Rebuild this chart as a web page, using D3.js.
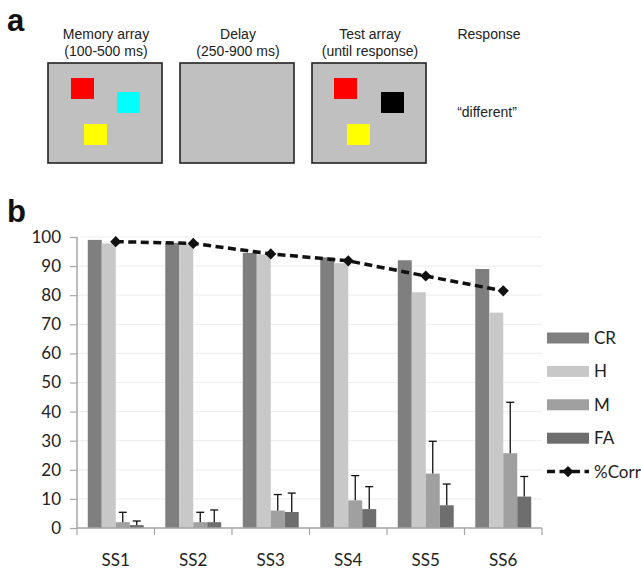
<!DOCTYPE html>
<html>
<head>
<meta charset="utf-8">
<script src="https://cdn.jsdelivr.net/npm/d3@7"></script>
<style>
  body { margin: 0; background: #fff; }
  svg { display: block; }
</style>
</head>
<body>
<script>
const setSizes = ['SS1', 'SS2', 'SS3', 'SS4', 'SS5', 'SS6'];
const seriesNames = ['CR', 'H', 'M', 'FA'];
const crValues = [99, 98, 94.5, 93, 92, 89];
const hValues = [97.8, 97.5, 94, 91, 81, 74];
const mValues = [2, 2, 6, 9.5, 18.7, 25.7];
const faValues = [1, 2, 5.5, 6.5, 7.8, 10.8];
const mErrTop = [5.4, 5.4, 11.5, 18, 29.8, 43.2];
const faErrTop = [2.4, 6.2, 12, 14.2, 15.1, 17.7];
const corrValues = [98.4, 97.8, 94.2, 91.8, 86.6, 81.5];
const yTicks = [0, 10, 20, 30, 40, 50, 60, 70, 80, 90, 100];

const seriesColor = { CR: '#7f7f7f', H: '#c7c8c7', M: '#a0a0a0', FA: '#6e6e6e' };

const svg = d3.select('body').append('svg')
  .attr('width', 641)
  .attr('height', 570);

// ***** PANEL A *****
const textFont = '"Liberation Sans", Arial, sans-serif';

svg.append('text')
  .attr('x', 7).attr('y', 31)
  .style('font-family', textFont).style('font-weight', 'bold').style('font-size', '31px')
  .attr('fill', '#111')
  .text('a');

const screens = [
  { x: 48, title: ['Memory array', '(100-500 ms)'], squares: [
    { x: 71, y: 78, c: '#ff0000' }, { x: 117, y: 92, c: '#00ffff' }, { x: 84, y: 124, c: '#ffff00' }] },
  { x: 180, title: ['Delay', '(250-900 ms)'], squares: [] },
  { x: 312, title: ['Test array', '(until response)'], squares: [
    { x: 334, y: 78, c: '#ff0000' }, { x: 381, y: 92, c: '#000000' }, { x: 347, y: 124, c: '#ffff00' }] },
];

screens.forEach((s) => {
  const g = svg.append('g');
  g.append('rect')
    .attr('x', s.x).attr('y', 63)
    .attr('width', 114).attr('height', 100)
    .attr('fill', '#c0c0c0')
    .attr('stroke', '#222').attr('stroke-width', 1.6);
  s.squares.forEach((q) => {
    g.append('rect')
      .attr('x', q.x).attr('y', q.y)
      .attr('width', 23).attr('height', 21)
      .attr('fill', q.c);
  });
  g.selectAll('text.title')
    .data(s.title)
    .enter()
    .append('text')
    .attr('class', 'title')
    .attr('x', s.x + 58)
    .attr('y', (d, i) => 39 + i * 17)
    .attr('text-anchor', 'middle')
    .style('font-family', textFont).style('font-size', '14px')
    .attr('fill', '#222')
    .text(d => d);
});

svg.append('text')
  .attr('x', 489).attr('y', 39)
  .attr('text-anchor', 'middle')
  .style('font-family', textFont).style('font-size', '14px')
  .attr('fill', '#222')
  .text('Response');

svg.append('text')
  .attr('x', 487).attr('y', 117)
  .attr('text-anchor', 'middle')
  .style('font-family', textFont).style('font-size', '14px')
  .attr('fill', '#222')
  .text('\u201cdifferent\u201d');

// ***** PANEL B *****
svg.append('text')
  .attr('x', 7).attr('y', 222)
  .style('font-family', textFont).style('font-weight', 'bold').style('font-size', '31px')
  .attr('fill', '#111')
  .text('b');

const chartFont = 'Lato, "Open Sans", sans-serif';
const plot = { left: 77, right: 542, top: 237, bottom: 528 };

const x = d3.scaleBand()
  .domain(setSizes)
  .range([plot.left, plot.right]);

const xInner = d3.scaleBand()
  .domain(seriesNames)
  .range([0, x.bandwidth()])
  .paddingInner(0)
  .paddingOuter(0.77);

const y = d3.scaleLinear()
  .domain([0, 100])
  .range([plot.bottom, plot.top]);

// gridlines
svg.append('g')
  .selectAll('line')
  .data(yTicks.slice(1))
  .enter()
  .append('line')
  .attr('x1', plot.left).attr('x2', plot.right)
  .attr('y1', d => y(d)).attr('y2', d => y(d))
  .attr('stroke', '#efefef').attr('stroke-width', 1.2);

// bars
const tableRows = setSizes.map((ss, i) => ({
  ss,
  values: { CR: crValues[i], H: hValues[i], M: mValues[i], FA: faValues[i] },
  err: { M: mErrTop[i], FA: faErrTop[i] },
}));

const groups = svg.append('g')
  .selectAll('g.group')
  .data(tableRows)
  .enter()
  .append('g')
  .attr('class', 'group')
  .attr('transform', d => `translate(${x(d.ss)}, 0)`);

groups.selectAll('rect')
  .data(d => seriesNames.map(name => ({ name, value: d.values[name] })))
  .enter()
  .append('rect')
  .attr('x', d => xInner(d.name))
  .attr('y', d => y(d.value))
  .attr('width', xInner.bandwidth())
  .attr('height', d => y(0) - y(d.value))
  .attr('fill', d => seriesColor[d.name]);

// error bars
const errData = groups.selectAll('g.err')
  .data(d => ['M', 'FA'].map(name => ({ name, value: d.values[name], top: d.err[name] })))
  .enter()
  .append('g')
  .attr('class', 'err');

errData.append('line')
  .attr('x1', d => xInner(d.name) + xInner.bandwidth() / 2)
  .attr('x2', d => xInner(d.name) + xInner.bandwidth() / 2)
  .attr('y1', d => y(d.value))
  .attr('y2', d => y(d.top))
  .attr('stroke', '#111').attr('stroke-width', 1.3);

errData.append('line')
  .attr('x1', d => xInner(d.name) + xInner.bandwidth() / 2 - 4)
  .attr('x2', d => xInner(d.name) + xInner.bandwidth() / 2 + 4)
  .attr('y1', d => y(d.top))
  .attr('y2', d => y(d.top))
  .attr('stroke', '#111').attr('stroke-width', 1.3);

// axes
const yAxis = d3.axisLeft(y).tickValues(yTicks).tickSize(7).tickPadding(9);
const yAxisG = svg.append('g')
  .attr('transform', `translate(${plot.left}, 0)`)
  .call(yAxis);
yAxisG.select('.domain').attr('stroke', '#a6a6a6').attr('stroke-width', 1.5)
  .attr('d', `M0,${plot.top}V${plot.bottom}`);
yAxisG.selectAll('.tick line').attr('stroke', '#a6a6a6').attr('stroke-width', 1.2);
yAxisG.selectAll('.tick text')
  .style('font-family', chartFont).style('font-size', '17px').attr('fill', '#222');

const xAxisG = svg.append('g');
xAxisG.append('line')
  .attr('x1', plot.left).attr('x2', plot.right)
  .attr('y1', y(0)).attr('y2', y(0))
  .attr('stroke', '#a6a6a6').attr('stroke-width', 1.5);
xAxisG.selectAll('line.sep')
  .data(setSizes.map(d => x(d)).concat([plot.right]))
  .enter()
  .append('line')
  .attr('class', 'sep')
  .attr('x1', d => d).attr('x2', d => d)
  .attr('y1', y(0)).attr('y2', y(0) + 7)
  .attr('stroke', '#a6a6a6').attr('stroke-width', 1.2);
xAxisG.selectAll('text')
  .data(setSizes)
  .enter()
  .append('text')
  .attr('x', d => x(d) + x.bandwidth() / 2)
  .attr('y', 566)
  .attr('text-anchor', 'middle')
  .style('font-family', chartFont).style('font-size', '17px')
  .attr('fill', '#222')
  .text(d => d);

// %Corr line
const corrPoints = setSizes.map((ss, i) => ({ ss, value: corrValues[i] }));
const line = d3.line()
  .x(d => x(d.ss) + x.bandwidth() / 2)
  .y(d => y(d.value));

svg.append('path')
  .datum(corrPoints)
  .attr('d', line)
  .attr('fill', 'none')
  .attr('stroke', '#111')
  .attr('stroke-width', 3.5)
  .attr('stroke-dasharray', '8,4.5');

const diamond = d3.symbol().type(d3.symbolDiamond2).size(80);
svg.append('g')
  .selectAll('path')
  .data(corrPoints)
  .enter()
  .append('path')
  .attr('d', diamond)
  .attr('transform', d => `translate(${x(d.ss) + x.bandwidth() / 2}, ${y(d.value)})`)
  .attr('fill', '#111');

// legend
const legendItems = seriesNames.concat(['%Corr']);
const legend = svg.append('g')
  .selectAll('g')
  .data(legendItems)
  .enter()
  .append('g')
  .attr('transform', (d, i) => `translate(547, ${338 + i * 33.4})`);

legend.filter(d => d !== '%Corr')
  .append('rect')
  .attr('x', 0).attr('y', -5.5)
  .attr('width', 42).attr('height', 11)
  .attr('fill', d => seriesColor[d]);

const corrLegend = legend.filter(d => d === '%Corr');
corrLegend.append('line')
  .attr('x1', 0).attr('x2', 42)
  .attr('y1', 0).attr('y2', 0)
  .attr('stroke', '#111').attr('stroke-width', 3.5)
  .attr('stroke-dasharray', '8,4.5');
corrLegend.append('path')
  .attr('d', diamond)
  .attr('transform', 'translate(21, 0)')
  .attr('fill', '#111');

legend.append('text')
  .attr('x', 47).attr('y', 6)
  .style('font-family', chartFont).style('font-size', '17px')
  .attr('fill', '#222')
  .text(d => d);
</script>
</body>
</html>
